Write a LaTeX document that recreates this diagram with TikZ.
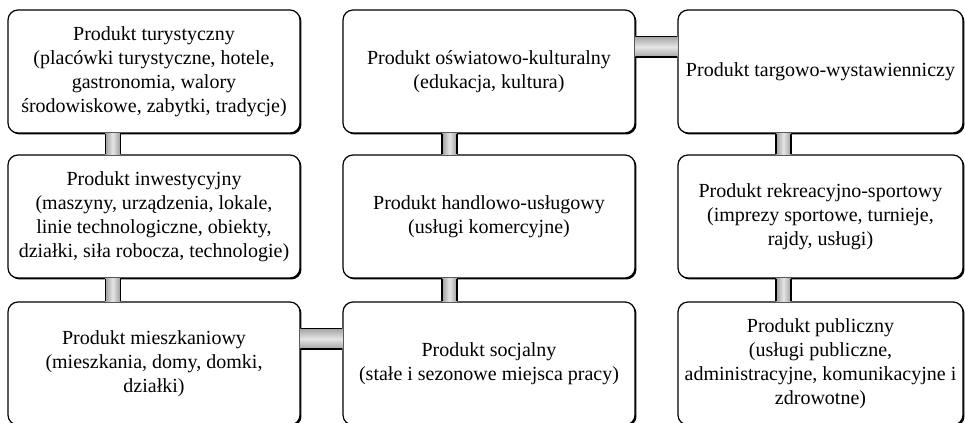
\documentclass[tikz,border=0pt]{standalone}
\usepackage{fontspec}
\setmainfont{Liberation Serif}
\usetikzlibrary{shadows}

\tikzset{
  prod/.style={draw=black, line width=0.9pt, fill=white, rounded corners=7.5pt,
    minimum height=92.25pt, align=center, inner xsep=2pt,
    font=\fontsize{15pt}{18pt}\selectfont,
    drop shadow={shadow xshift=1.1pt, shadow yshift=-1.1pt, opacity=1, fill=black}},
  prodwide/.style={prod, minimum width=219pt},
  prodnarrow/.style={prod, minimum width=213.75pt},
  vshade/.style={left color=gray!75, right color=gray!75, middle color=gray!20},
  hshade/.style={top color=gray!70, bottom color=gray!70, middle color=gray!20},
  baredge/.style={draw=black, line width=0.9pt},
}

% vertical bar between two nodes, #3 = shift from centre
\newcommand{\prodvbar}[3]{%
  \shade[vshade] ([xshift=#3-5.6pt]#1.south) rectangle ([xshift=#3+5.6pt]#2.north);
  \draw[baredge] ([xshift=#3-5.6pt]#1.south) -- ([xshift=#3-5.6pt]#2.north)
                 ([xshift=#3+5.6pt]#1.south) -- ([xshift=#3+5.6pt]#2.north);}
% horizontal bar between two nodes
\newcommand{\prodhbar}[2]{%
  \shade[hshade] ([yshift=18.5pt+7.5pt]#1.east) rectangle ([yshift=18.5pt-7.5pt]#2.west);
  \draw[baredge] ([yshift=18.5pt+7.5pt]#1.east) -- ([yshift=18.5pt+7.5pt]#2.west);
  \draw[baredge, line width=1.6pt] ([yshift=18.5pt-7.5pt]#1.east) -- ([yshift=18.5pt-7.5pt]#2.west);}

\begin{document}
\begin{tikzpicture}[x=0.75pt,y=-0.75pt]
\useasboundingbox (0,0) rectangle (965,423);

% first column
\node[prodwide] (tur) at (154,71.5) {Produkt turystyczny\\(placówki turystyczne, hotele,\\gastronomia, walory\\środowiskowe, zabytki, tradycje)};
\node[prodwide] (inw) at (154,216.5) {Produkt inwestycyjny\\(maszyny, urządzenia, lokale,\\linie technologiczne, obiekty,\\działki, siła robocza, technologie)};
\node[prodwide] (mie) at (154,363.5) {Produkt mieszkaniowy\\(mieszkania, domy, domki,\\działki)};

% second column
\node[prodwide] (kul) at (489,71.5) {Produkt oświatowo-kulturalny\\(edukacja, kultura)};
\node[prodwide] (han) at (489,216.5) {Produkt handlowo-usługowy\\(usługi komercyjne)};
\node[prodwide] (soc) at (489,363.5) {Produkt socjalny\\(stałe i sezonowe miejsca pracy)};

% third column
\node[prodnarrow] (tar) at (820.5,71.5) {Produkt targowo-wystawienniczy};
\node[prodnarrow] (rek) at (820.5,216.5) {Produkt rekreacyjno-sportowy\\(imprezy sportowe, turnieje,\\rajdy, usługi)};
\node[prodnarrow] (pub) at (820.5,363.5) {Produkt publiczny\\(usługi publiczne,\\administracyjne, komunikacyjne i\\zdrowotne)};

% connecting bars
\prodvbar{tur}{inw}{-31pt}
\prodvbar{inw}{mie}{-31pt}
\prodvbar{kul}{han}{-29.6pt}
\prodvbar{han}{soc}{-29.6pt}
\prodvbar{tar}{rek}{-27.8pt}
\prodvbar{rek}{pub}{-27.8pt}
\prodhbar{kul}{tar}
\prodhbar{mie}{soc}
\end{tikzpicture}
\end{document}
